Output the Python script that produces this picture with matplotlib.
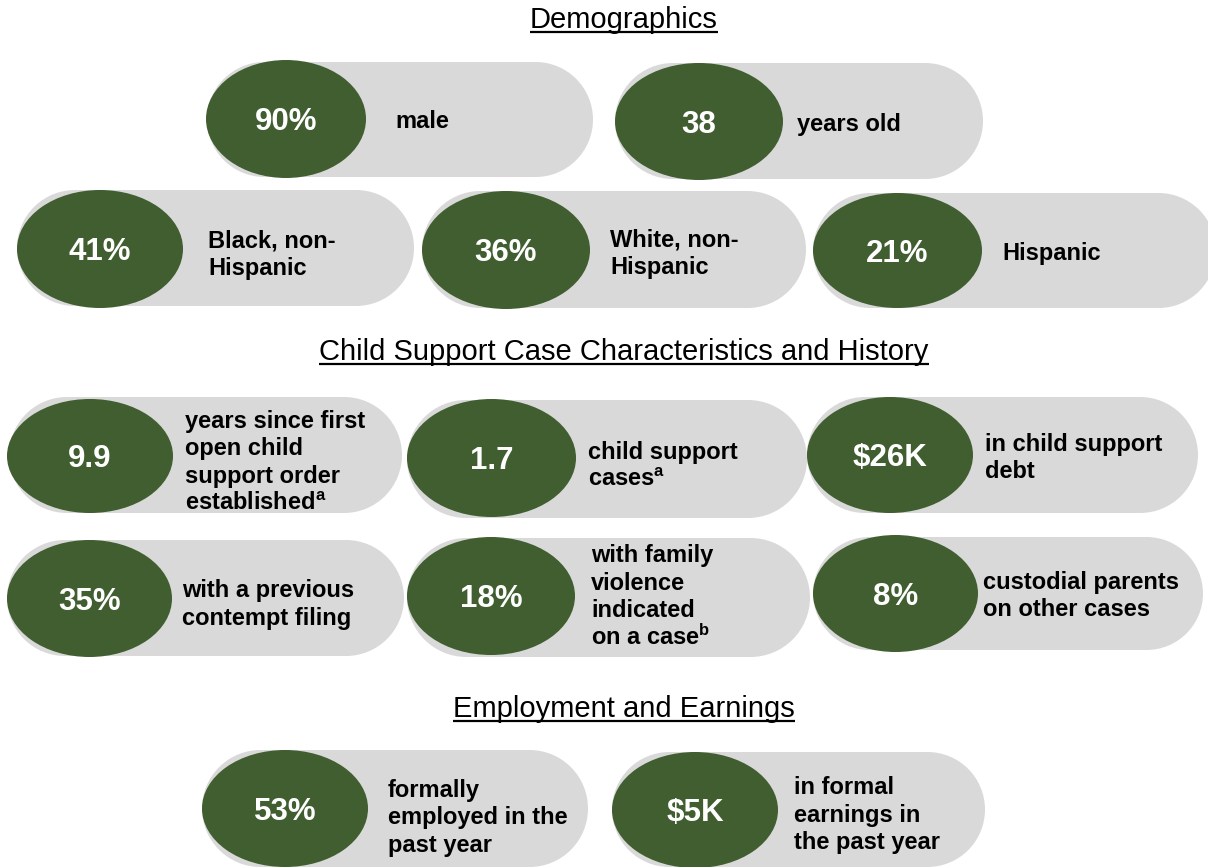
import matplotlib
matplotlib.use("Agg")
import matplotlib.pyplot as plt
from matplotlib.patches import Ellipse, Rectangle, Circle

plt.rcParams['font.family'] = ['Liberation Sans', 'DejaVu Sans']
plt.rcParams['mathtext.fontset'] = 'custom'
plt.rcParams['mathtext.rm'] = 'Liberation Sans:bold'
plt.rcParams['mathtext.bf'] = 'Liberation Sans:bold'
plt.rcParams['mathtext.it'] = 'Liberation Sans:bold'

# ---------------- data ----------------
section_titles = ["Demographics",
                  "Child Support Case Characteristics and History",
                  "Employment and Earnings"]

values = ["90%", "38", "41%", "36%", "21%",
          "9.9", "1.7", "$26K",
          "35%", "18%", "8%",
          "53%", "$5K"]

labels = [
    ["male"],
    ["years old"],
    ["Black, non-", "Hispanic"],
    ["White, non-", "Hispanic"],
    ["Hispanic"],
    ["years since first", "open child", "support order", "established$^{a}$"],
    ["child support", "cases$^{a}$"],
    ["in child support", "debt"],
    ["with a previous", "contempt filing"],
    ["with family", "violence", "indicated", "on a case$^{b}$"],
    ["custodial parents", "on other cases"],
    ["formally", "employed in the", "past year"],
    ["in formal", "earnings in", "the past year"],
]

# ---------------- layout (pixel coordinates, y downward) ----------------
# pill: (x0, y0, x1, y1); ellipse: (cx, cy, w, h); label: (x, block centre y)
pills = [
    (207, 62, 593, 177), (615, 63, 983, 179),
    (17, 190, 414, 306), (422, 191, 806, 308), (813, 193, 1216, 308),
    (9, 397, 402, 513), (407, 400, 807, 518), (807, 397, 1198, 513),
    (7, 540, 404, 656), (407, 538, 810, 657), (813, 537, 1203, 650),
    (202, 750, 588, 867), (612, 752, 985, 867),
]
ellipses = [
    (286, 119, 160, 118), (699, 121.5, 168, 117),
    (100, 249, 166, 118), (506, 250, 168, 118), (897.5, 250.5, 169, 115),
    (90, 456, 166, 114), (491.5, 458, 169, 118), (890, 455, 166, 116),
    (89.5, 598.5, 165, 117), (491, 596, 168, 118), (895.5, 593.5, 165, 117),
    (285, 808.5, 166, 117), (695, 810, 166, 116),
]
label_pos = [
    (395, 119.5), (797, 122.5),
    (208, 252.5), (610, 251.5), (1002, 252),
    (185, 460.5), (588, 464), (985, 456),
    (182, 602.5), (591, 595), (983, 594),
    (388, 816), (794, 813.5),
]
title_pos = [(624, 28), (624, 360), (624, 717)]

GREEN = "#405E2F"
GRAY = "#D9D9D9"
W, H = 1208, 867
VAL_FS = 22.5
LAB_FS = 17
TITLE_FS = 21
LINE_STEP = 27.5

fig = plt.figure(figsize=(W / 100, H / 100), dpi=100)
ax = fig.add_axes([0, 0, 1, 1])
ax.set_xlim(0, W)
ax.set_ylim(H, 0)
ax.axis("off")

for i, val in enumerate(values):
    x0, y0, x1, y1 = pills[i]
    h = y1 - y0
    r = h / 2
    ax.add_patch(Rectangle((x0 + r, y0), (x1 - x0) - 2 * r, h,
                           facecolor=GRAY, edgecolor="none", zorder=1))
    ax.add_patch(Circle((x0 + r, y0 + r), r, facecolor=GRAY,
                        edgecolor="none", zorder=1))
    ax.add_patch(Circle((x1 - r, y0 + r), r, facecolor=GRAY,
                        edgecolor="none", zorder=1))
    cx, cy, ew, eh = ellipses[i]
    ax.add_patch(Ellipse((cx, cy), ew, eh, facecolor=GREEN,
                         edgecolor="none", zorder=2))
    ax.text(cx, cy + 0.358 * VAL_FS * 100 / 72, val, color="white",
            fontsize=VAL_FS, fontweight="bold", ha="center", va="baseline",
            zorder=3, parse_math=False)
    lx, lc = label_pos[i]
    lines = labels[i]
    n = len(lines)
    cap = 0.716 * LAB_FS * 100 / 72
    top_base = lc - (n - 1) * LINE_STEP / 2 + cap / 2
    for k, line in enumerate(lines):
        ax.text(lx, top_base + k * LINE_STEP, line, color="black",
                fontsize=LAB_FS, fontweight="bold", ha="left",
                va="baseline", zorder=3)

fig.canvas.draw()
renderer = fig.canvas.get_renderer()
inv = ax.transData.inverted()
for t, (tx, ty) in zip(section_titles, title_pos):
    txt = ax.text(tx, ty, t, fontsize=TITLE_FS, color="black",
                  ha="center", va="baseline", zorder=3)
    bb = txt.get_window_extent(renderer=renderer)
    (xa, _), (xb, _) = inv.transform([(bb.x0, 0), (bb.x1, 0)])
    ax.plot([xa, xb], [ty + 4, ty + 4], color="black", lw=1.6,
            solid_capstyle="butt", zorder=3)

fig.savefig("out.png", dpi=100)
